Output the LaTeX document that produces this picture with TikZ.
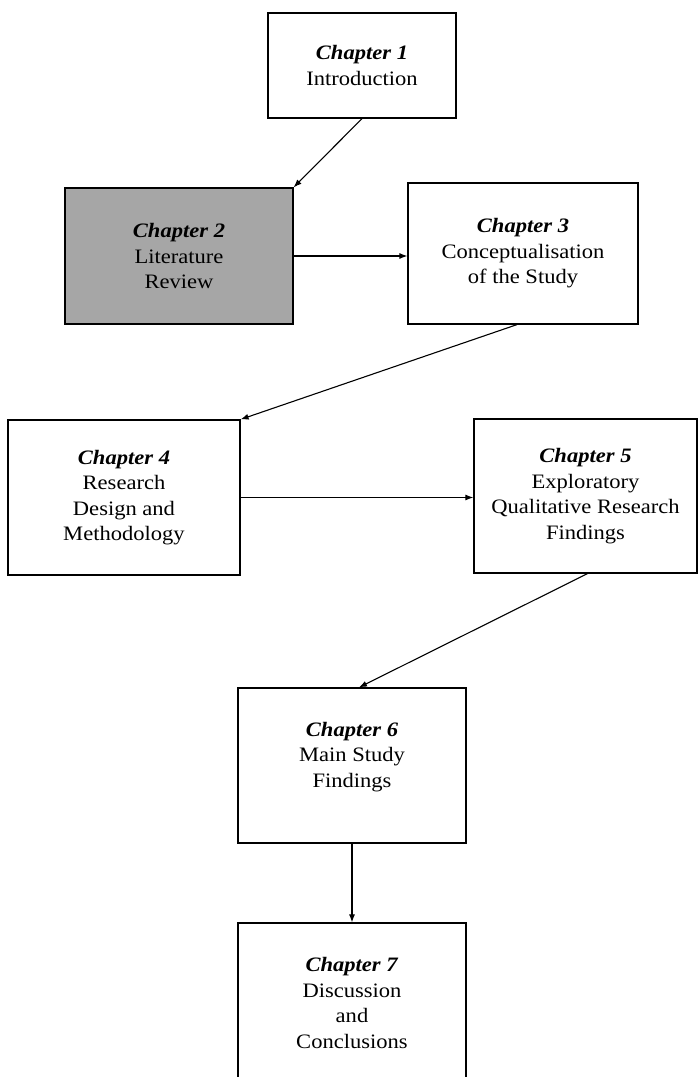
\documentclass[tikz,border=0pt]{standalone}
\usepackage{fontspec}
\setmainfont{Liberation Serif}[FakeStretch=1.1]
\usetikzlibrary{arrows.meta,calc}
\tikzset{
  chapbox/.style={draw, line width=1.2pt, align=center, inner sep=2pt,
    font=\fontsize{20.5}{25.5}\selectfont},
  flow/.style={-{Latex[length=8pt,width=6pt]}, line width=1.1pt}
}
\newcommand{\chap}[1]{\textbf{\textit{Chapter #1}}}
\begin{document}
\begin{tikzpicture}[x=1pt,y=1pt]
	\useasboundingbox (0,0) rectangle (698,-1077);
	\node[chapbox, minimum width=188pt, minimum height=105pt] (ch1) at (362,-65.5) {\chap{1}\\Introduction};
	\node[chapbox, fill=black!35, minimum width=228pt, minimum height=136pt] (ch2) at (179,-256) {\chap{2}\\Literature\\Review};
	\node[chapbox, minimum width=230pt, minimum height=141pt] (ch3) at (523,-253.5) {\chap{3}\\Conceptualisation\\of the Study};
	\node[chapbox, minimum width=232pt, minimum height=155pt] (ch4) at (124,-497.5) {\chap{4}\\Research\\Design and\\Methodology};
	\node[chapbox, minimum width=223pt, minimum height=154pt] (ch5) at (585.5,-496) {\chap{5}\\Exploratory\\Qualitative Research\\Findings};
	\node[chapbox, text depth=22pt, minimum width=228pt, minimum height=155pt] (ch6) at (352,-765.5) {\chap{6}\\Main Study\\Findings};
	\node[chapbox, minimum width=228pt, minimum height=160pt] (ch7) at (352,-1003) {\chap{7}\\Discussion\\and\\Conclusions};
	% links between chapters
	\draw[flow] (ch1.south) -- (ch2.north east);
	\draw[flow] (ch2.east) -- (ch3.west |- ch2.east);
	\draw[flow] ($(ch3.south)+(-6,0)$) -- (ch4.north east);
	\draw[flow] (ch4.east) -- (ch5.west |- ch4.east);
	\draw[flow] ($(ch5.south)+(2,0)$) -- ($(ch6.north)+(7,0)$);
	\draw[flow] (ch6.south) -- (ch7.north);
\end{tikzpicture}
\end{document}
